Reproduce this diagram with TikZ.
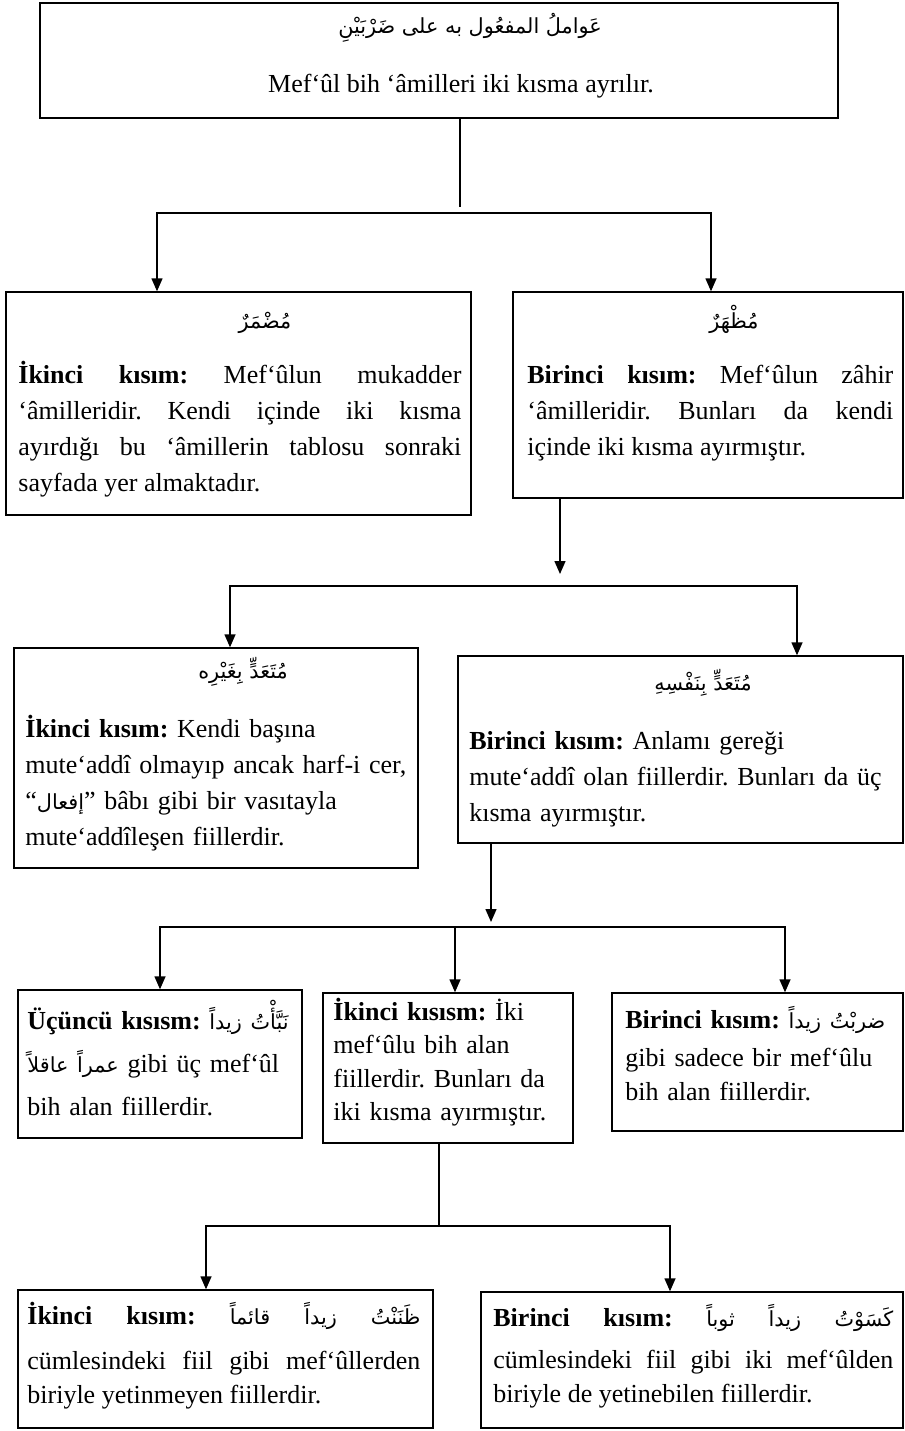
\documentclass[tikz,border=0pt]{standalone}
\usepackage{fontspec}
\setmainfont{Liberation Serif}
\newfontfamily\arabicfont[Script=Arabic,Scale=0.8]{DejaVu Sans}
\TeXXeTstate=1
\tolerance=10000
\hbadness=10000
\frenchspacing
\usetikzlibrary{arrows.meta,fit}

\newcommand{\arb}[1]{{\arabicfont\beginR #1\endR}}

\tikzset{
  kutu/.style={draw, line width=0.7pt, inner sep=0pt},
  yazi/.style={inner sep=0pt, anchor=base west, align=justify,
    font=\fontsize{13}{18}\selectfont},
  baslik/.style={inner sep=0pt, anchor=base, font=\fontsize{13}{18}\selectfont},
  cizgi/.style={line width=0.7pt},
  ok/.style={cizgi, -{Triangle[length=6.5pt,width=5.5pt]}}
}

\begin{document}
\begin{tikzpicture}[x=0.5pt,y=-0.5pt]
\useasboundingbox (0,0) rectangle (905,1431);

% ust kutu
\node[kutu, fit={(40,3) (838,118)}] (amil) {};
\node[baslik] (amil-ar) at (470,33) {\arb{عَواملُ المفعُول به على ضَرْبَيْنِ}};
\node[baslik] (amil-tr) at (461,92) {Mef‘ûl bih ‘âmilleri iki kısma ayrılır.};

% ikinci sira
\node[kutu, fit={(6,292) (471,515)}] (mudmar) {};
\node[baslik] (mudmar-ar) at (265,328) {\arb{مُضْمَرٌ}};
\node[yazi, text width=221.5pt] (mudmar-tr) at (18,383) {\textbf{İkinci kısım:} Mef‘ûlun mukadder\linebreak ‘âmilleridir. Kendi içinde iki kısma\linebreak ayırdığı bu ‘âmillerin tablosu sonraki\linebreak sayfada yer almaktadır.};

\node[kutu, fit={(513,292) (903,498)}] (muzhar) {};
\node[baslik] (muzhar-ar) at (734,328) {\arb{مُظْهَرٌ}};
\node[yazi, text width=183pt] (muzhar-tr) at (527,383) {\textbf{Birinci kısım:} Mef‘ûlun zâhir\linebreak ‘âmilleridir. Bunları da kendi\linebreak içinde iki kısma ayırmıştır.};

% ucuncu sira
\node[kutu, fit={(14,648) (418,868)}] (bigayrihi) {};
\node[baslik] (bigayrihi-ar) at (243,678) {\arb{مُتَعَدٍّ بِغَيْرِه}};
\node[yazi, align=left, text width=195pt] (bigayrihi-tr) at (25,737) {\textbf{İkinci kısım:} Kendi başına\\ mute‘addî olmayıp ancak harf-i cer,\\ “\arb{إفعال}” bâbı gibi bir vasıtayla\\ mute‘addîleşen fiillerdir.};

\node[kutu, fit={(458,656) (903,843)}] (binafsihi) {};
\node[baslik] (binafsihi-ar) at (703,690) {\arb{مُتَعَدٍّ بِنَفْسِهِ}};
\node[yazi, align=left, text width=215pt] (binafsihi-tr) at (469,749) {\textbf{Birinci kısım:} Anlamı gereği\\ mute‘addî olan fiillerdir. Bunları da üç\\ kısma ayırmıştır.};

% dorduncu sira
\node[kutu, fit={(18,990) (302,1138)}] (ucuncu) {};
\node[yazi, align=left, text width=140pt, font=\fontsize{13}{21.5}\selectfont] (ucuncu-tr) at (27,1029) {\textbf{Üçüncü kısısm:}\ \arb{نَبَّأْتُ زيداً}\\ \arb{عمراً عاقلاً} gibi üç mef‘ûl\\ bih alan fiillerdir.};

\node[kutu, fit={(323,993) (573,1143)}] (ikinci) {};
\node[yazi, align=left, text width=117.5pt, font=\fontsize{13}{16.75}\selectfont] (ikinci-tr) at (333,1020) {\textbf{İkinci kısısm:} İki\\ mef‘ûlu bih alan\\ fiillerdir. Bunları da\\ iki kısma ayırmıştır.};

\node[kutu, fit={(612,993) (903,1131)}] (birinci) {};
\node[yazi, align=left, text width=140pt, font=\fontsize{13}{17}\selectfont] (birinci-tr) at (625,1028) {\textbf{Birinci kısım:} \arb{ضربْتُ زيداً}\\[2pt] gibi sadece bir mef‘ûlu\\ bih alan fiillerdir.};

% besinci sira
\node[kutu, fit={(18,1290) (433,1428)}] (zanantu) {};
\node[yazi, text width=196.5pt, font=\fontsize{13}{17}\selectfont] (zanantu-tr) at (27,1324) {\makebox[\linewidth][s]{\textbf{İkinci}\hfill\textbf{kısım:}\hfill\arb{ظَنَنْتُ\hfill زيداً\hfill قائماً}}\\[5.5pt] cümlesindeki fiil gibi mef‘ûllerden\linebreak biriyle yetinmeyen fiillerdir.};

\node[kutu, fit={(481,1292) (903,1428)}] (kasawtu) {};
\node[yazi, text width=200pt, font=\fontsize{13}{17}\selectfont] (kasawtu-tr) at (493,1326) {\makebox[\linewidth][s]{\textbf{Birinci}\hfill\textbf{kısım:}\hfill\arb{كَسَوْتُ\hfill زيداً\hfill ثوباً}}\\[4pt] cümlesindeki fiil gibi iki mef‘ûlden\linebreak biriyle de yetinebilen fiillerdir.};

% baglantilar
\coordinate (b1) at (460,207);
\coordinate (b1l) at (157,213);
\coordinate (b1r) at (711,213);
\draw[cizgi] (amil.south -| b1) -- (b1);
\draw[ok] (b1r) -- (b1l) -- (mudmar.north -| b1l);
\draw[ok] (b1l) -- (b1r) -- (muzhar.north -| b1r);

\coordinate (b2) at (560,574);
\coordinate (b2l) at (230,586);
\coordinate (b2r) at (797,586);
\draw[ok] (muzhar.south -| b2) -- (b2);
\draw[ok] (b2r) -- (b2l) -- (bigayrihi.north -| b2l);
\draw[ok] (b2l) -- (b2r) -- (binafsihi.north -| b2r);

\coordinate (b3) at (491,922);
\coordinate (b3l) at (160,927);
\coordinate (b3m) at (455,927);
\coordinate (b3r) at (785,927);
\draw[ok] (binafsihi.south -| b3) -- (b3);
\draw[ok] (b3r) -- (b3l) -- (ucuncu.north -| b3l);
\draw[ok] (b3l) -- (b3r) -- (birinci.north -| b3r);
\draw[ok] (b3m) -- (ikinci.north -| b3m);

\coordinate (b4) at (439,1226);
\coordinate (b4l) at (206,1226);
\coordinate (b4r) at (670,1226);
\draw[cizgi] (ikinci.south -| b4) -- (b4);
\draw[ok] (b4r) -- (b4l) -- (zanantu.north -| b4l);
\draw[ok] (b4l) -- (b4r) -- (kasawtu.north -| b4r);
\end{tikzpicture}
\end{document}
